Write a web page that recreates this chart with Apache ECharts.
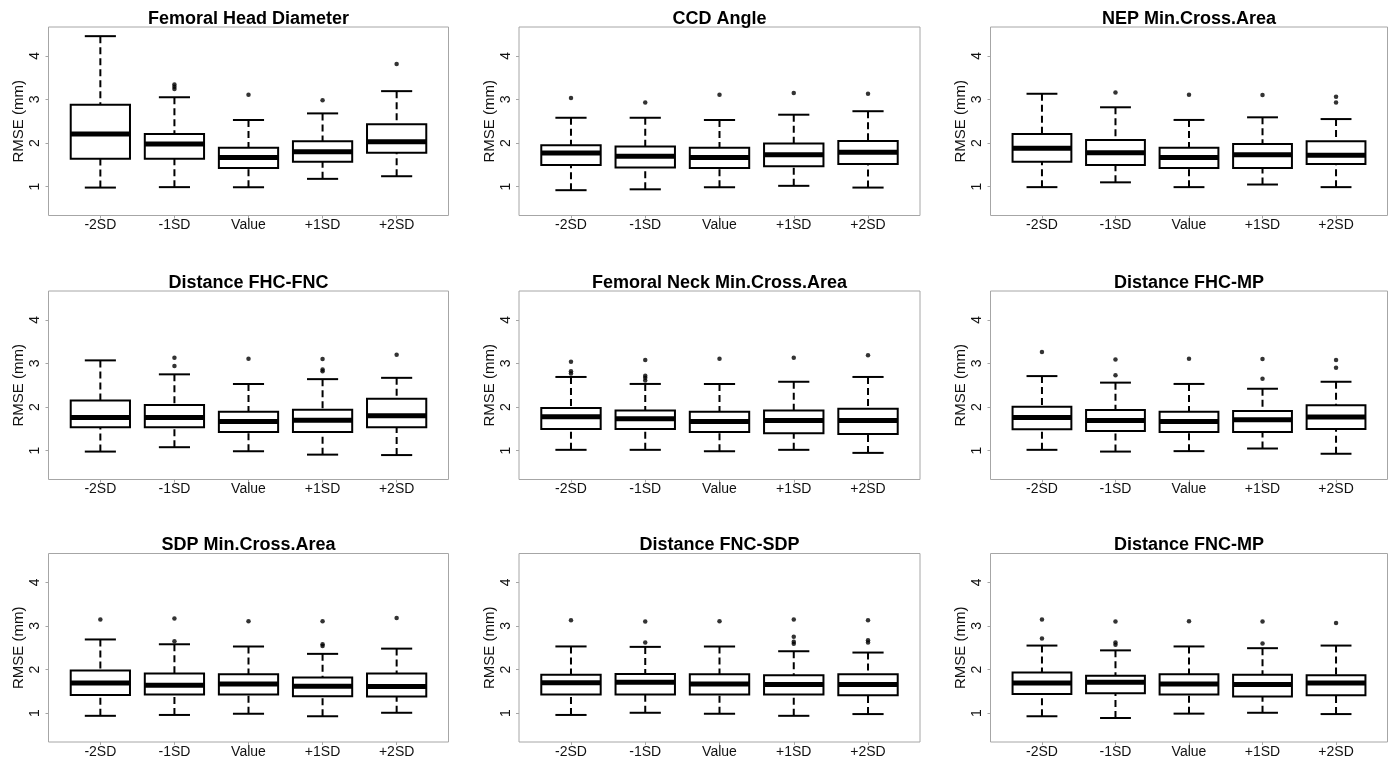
<!DOCTYPE html>
<html>
<head>
<meta charset="utf-8">
<script src="https://cdn.jsdelivr.net/npm/echarts@6/dist/echarts.min.js"></script>
<style>
html,body{margin:0;padding:0;background:#fff;}
#chart{width:1394px;height:761px;}
</style>
</head>
<body>
<div id="chart"></div>
<script>
// ---------- data ----------
const categories = ['-2SD', '-1SD', 'Value', '+1SD', '+2SD'];
const yTicks = [1, 2, 3, 4];
const panelTitles = [
  'Femoral Head Diameter', 'CCD Angle', 'NEP Min.Cross.Area',
  'Distance FHC-FNC', 'Femoral Neck Min.Cross.Area', 'Distance FHC-MP',
  'SDP Min.Cross.Area', 'Distance FNC-SDP', 'Distance FNC-MP'
];
// each row: [min, Q1, median, Q3, max] for -2SD, -1SD, Value, +1SD, +2SD
const femoralHeadDiameter = [
  [0.98, 1.64, 2.21, 2.88, 4.45],
  [0.99, 1.64, 1.98, 2.21, 3.05],
  [0.99, 1.43, 1.67, 1.89, 2.53],
  [1.18, 1.57, 1.80, 2.04, 2.68],
  [1.24, 1.78, 2.03, 2.43, 3.19]
];
const femoralHeadDiameterOutliers = [['-1SD', 3.34], ['-1SD', 3.29], ['-1SD', 3.24], ['Value', 3.11], ['+1SD', 2.98], ['+2SD', 3.81]];

const ccdAngle = [
  [0.92, 1.50, 1.77, 1.95, 2.58],
  [0.94, 1.44, 1.70, 1.92, 2.58],
  [0.99, 1.43, 1.67, 1.89, 2.53],
  [1.02, 1.47, 1.73, 1.99, 2.65],
  [0.98, 1.52, 1.79, 2.05, 2.73]
];
const ccdAngleOutliers = [['-2SD', 3.03], ['-1SD', 2.93], ['Value', 3.11], ['+1SD', 3.15], ['+2SD', 3.13]];

const nepMinCrossArea = [
  [0.99, 1.57, 1.88, 2.21, 3.13],
  [1.10, 1.50, 1.78, 2.07, 2.82],
  [0.99, 1.43, 1.67, 1.89, 2.53],
  [1.05, 1.43, 1.73, 1.98, 2.59],
  [0.99, 1.52, 1.72, 2.04, 2.55]
];
const nepMinCrossAreaOutliers = [['-1SD', 3.16], ['Value', 3.11], ['+1SD', 3.10], ['+2SD', 3.06], ['+2SD', 2.93]];

const distanceFhcFnc = [
  [0.98, 1.54, 1.76, 2.15, 3.07],
  [1.08, 1.54, 1.76, 2.05, 2.75],
  [0.99, 1.43, 1.67, 1.89, 2.53],
  [0.91, 1.43, 1.70, 1.94, 2.64],
  [0.90, 1.54, 1.80, 2.19, 2.67]
];
const distanceFhcFncOutliers = [['-1SD', 3.13], ['-1SD', 2.94], ['Value', 3.11], ['+1SD', 3.10], ['+1SD', 2.86], ['+1SD', 2.82], ['+2SD', 3.20]];

const femoralNeckMinCrossArea = [
  [1.02, 1.50, 1.78, 1.98, 2.69],
  [1.02, 1.50, 1.73, 1.92, 2.53],
  [0.99, 1.43, 1.67, 1.89, 2.53],
  [1.02, 1.40, 1.69, 1.92, 2.58],
  [0.95, 1.38, 1.69, 1.96, 2.69]
];
const femoralNeckMinCrossAreaOutliers = [['-2SD', 3.04], ['-2SD', 2.82], ['-2SD', 2.77], ['-1SD', 3.08], ['-1SD', 2.72], ['-1SD', 2.67], ['-1SD', 2.61], ['Value', 3.11], ['+1SD', 3.13], ['+2SD', 3.19]];

const distanceFhcMp = [
  [1.02, 1.49, 1.76, 2.01, 2.71],
  [0.98, 1.45, 1.69, 1.93, 2.56],
  [0.99, 1.43, 1.67, 1.89, 2.53],
  [1.05, 1.43, 1.71, 1.91, 2.42],
  [0.93, 1.50, 1.77, 2.04, 2.58]
];
const distanceFhcMpOutliers = [['-2SD', 3.26], ['-1SD', 3.09], ['-1SD', 2.73], ['Value', 3.11], ['+1SD', 3.10], ['+1SD', 2.65], ['+2SD', 3.08], ['+2SD', 2.90]];

const sdpMinCrossArea = [
  [0.94, 1.42, 1.69, 1.98, 2.69],
  [0.96, 1.43, 1.64, 1.91, 2.58],
  [0.99, 1.43, 1.67, 1.89, 2.53],
  [0.93, 1.39, 1.62, 1.82, 2.36],
  [1.01, 1.38, 1.61, 1.91, 2.48]
];
const sdpMinCrossAreaOutliers = [['-2SD', 3.15], ['-1SD', 3.17], ['-1SD', 2.65], ['Value', 3.11], ['+1SD', 3.11], ['+1SD', 2.58], ['+1SD', 2.54], ['+2SD', 3.18]];

const distanceFncSdp = [
  [0.96, 1.43, 1.70, 1.88, 2.53],
  [1.01, 1.43, 1.71, 1.90, 2.52],
  [0.99, 1.43, 1.67, 1.89, 2.53],
  [0.94, 1.43, 1.66, 1.87, 2.42],
  [0.98, 1.41, 1.66, 1.89, 2.39]
];
const distanceFncSdpOutliers = [['-2SD', 3.13], ['-1SD', 3.10], ['-1SD', 2.62], ['Value', 3.11], ['+1SD', 3.15], ['+1SD', 2.75], ['+1SD', 2.64], ['+1SD', 2.59], ['+2SD', 3.13], ['+2SD', 2.67], ['+2SD', 2.62]];

const distanceFncMp = [
  [0.93, 1.44, 1.69, 1.93, 2.55],
  [0.89, 1.46, 1.71, 1.86, 2.44],
  [0.99, 1.43, 1.67, 1.89, 2.53],
  [1.01, 1.38, 1.66, 1.88, 2.49],
  [0.98, 1.41, 1.69, 1.87, 2.55]
];
const distanceFncMpOutliers = [['-2SD', 3.15], ['-2SD', 2.71], ['-1SD', 3.10], ['-1SD', 2.62], ['-1SD', 2.57], ['Value', 3.11], ['+1SD', 3.10], ['+1SD', 2.60], ['+2SD', 3.07]];

const panelBoxes = [femoralHeadDiameter, ccdAngle, nepMinCrossArea, distanceFhcFnc, femoralNeckMinCrossArea, distanceFhcMp, sdpMinCrossArea, distanceFncSdp, distanceFncMp];
const panelOutliers = [femoralHeadDiameterOutliers, ccdAngleOutliers, nepMinCrossAreaOutliers, distanceFhcFncOutliers, femoralNeckMinCrossAreaOutliers, distanceFhcMpOutliers, sdpMinCrossAreaOutliers, distanceFncSdpOutliers, distanceFncMpOutliers];

// ---------- layout ----------
const FONT = '"Liberation Sans", Arial, Helvetica, sans-serif';
const colLeft = [48.5, 519, 990.5];
const colWidth = [400, 401, 397];
const rowTop = [27, 291, 553.5];
const rowHeight = 188.5;
const frameColor = '#a6a6a6';

function renderBox(params, api) {
  const x = api.value(0);
  const pMin = api.coord([x, api.value(1)]);
  const pQ1 = api.coord([x, api.value(2)]);
  const pMed = api.coord([x, api.value(3)]);
  const pQ3 = api.coord([x, api.value(4)]);
  const pMax = api.coord([x, api.value(5)]);
  const halfBox = api.size([0.4, 0])[0];
  const halfStaple = api.size([0.21, 0])[0];
  const cx = pMin[0];
  const solid = { stroke: '#000', lineWidth: 2, fill: null };
  const dashed = { stroke: '#000', lineWidth: 2, lineDash: [7, 4], fill: null };
  return {
    type: 'group',
    children: [
      { type: 'line', shape: { x1: cx, y1: pMax[1], x2: cx, y2: pQ3[1] }, style: dashed },
      { type: 'line', shape: { x1: cx, y1: pMin[1], x2: cx, y2: pQ1[1] }, style: dashed },
      { type: 'line', shape: { x1: cx - halfStaple, y1: pMax[1], x2: cx + halfStaple, y2: pMax[1] }, style: solid },
      { type: 'line', shape: { x1: cx - halfStaple, y1: pMin[1], x2: cx + halfStaple, y2: pMin[1] }, style: solid },
      { type: 'rect', shape: { x: cx - halfBox, y: pQ3[1], width: 2 * halfBox, height: pQ1[1] - pQ3[1] }, style: { fill: '#fff', stroke: '#000', lineWidth: 2 } },
      { type: 'line', shape: { x1: cx - halfBox, y1: pMed[1], x2: cx + halfBox, y2: pMed[1] }, style: { stroke: '#000', lineWidth: 5 } }
    ]
  };
}

const grids = [], xAxes = [], yAxes = [], titles = [], series = [];
panelTitles.forEach((t, i) => {
  const r = Math.floor(i / 3), c = i % 3;
  grids.push({
    left: colLeft[c], top: rowTop[r], width: colWidth[c], height: rowHeight,
    show: true, borderColor: frameColor, borderWidth: 1, backgroundColor: 'transparent',
    containLabel: false
  });
  xAxes.push({
    type: 'value', gridIndex: i, min: 0.3, max: 5.7,
    axisLine: { show: false },
    splitLine: { show: false },
    axisTick: { show: true, length: 3, customValues: [1, 2, 3, 4, 5], lineStyle: { color: frameColor, width: 1 } },
    axisLabel: {
      customValues: [1, 2, 3, 4, 5], margin: 3,
      formatter: v => categories[Math.round(v) - 1] || '',
      fontFamily: FONT, fontSize: 14, color: '#111'
    }
  });
  yAxes.push({
    type: 'value', gridIndex: i, min: 0.34, max: 4.66,
    name: 'RMSE (mm)', nameLocation: 'middle', nameGap: 22,
    nameTextStyle: { fontFamily: FONT, fontSize: 15, color: '#111' },
    axisLine: { show: false },
    splitLine: { show: false },
    axisTick: { show: true, length: 3, customValues: yTicks, lineStyle: { color: frameColor, width: 1 } },
    axisLabel: {
      customValues: yTicks, rotate: 90, margin: 6,
      fontFamily: FONT, fontSize: 14, color: '#111'
    }
  });
  titles.push({
    text: t,
    left: colLeft[c] + colWidth[c] / 2,
    top: rowTop[r] - 17,
    textAlign: 'center',
    padding: 0,
    textStyle: { fontFamily: FONT, fontSize: 18, fontWeight: 'bold', color: '#000' }
  });
  series.push({
    type: 'custom', xAxisIndex: i, yAxisIndex: i,
    renderItem: renderBox,
    encode: { x: 0, y: [1, 2, 3, 4, 5] },
    data: panelBoxes[i].map((s, k) => [k + 1].concat(s)),
    silent: true, animation: false
  });
  series.push({
    type: 'scatter', xAxisIndex: i, yAxisIndex: i,
    symbol: 'circle', symbolSize: 4.5,
    itemStyle: { color: '#000' },
    data: panelOutliers[i].map(o => [categories.indexOf(o[0]) + 1, o[1]]),
    silent: true, animation: false
  });
});

const chart = echarts.init(document.getElementById('chart'), null, { renderer: 'canvas' });
chart.setOption({
  backgroundColor: '#fff',
  animation: false,
  title: titles,
  grid: grids,
  xAxis: xAxes,
  yAxis: yAxes,
  series: series
});
</script>
</body>
</html>
